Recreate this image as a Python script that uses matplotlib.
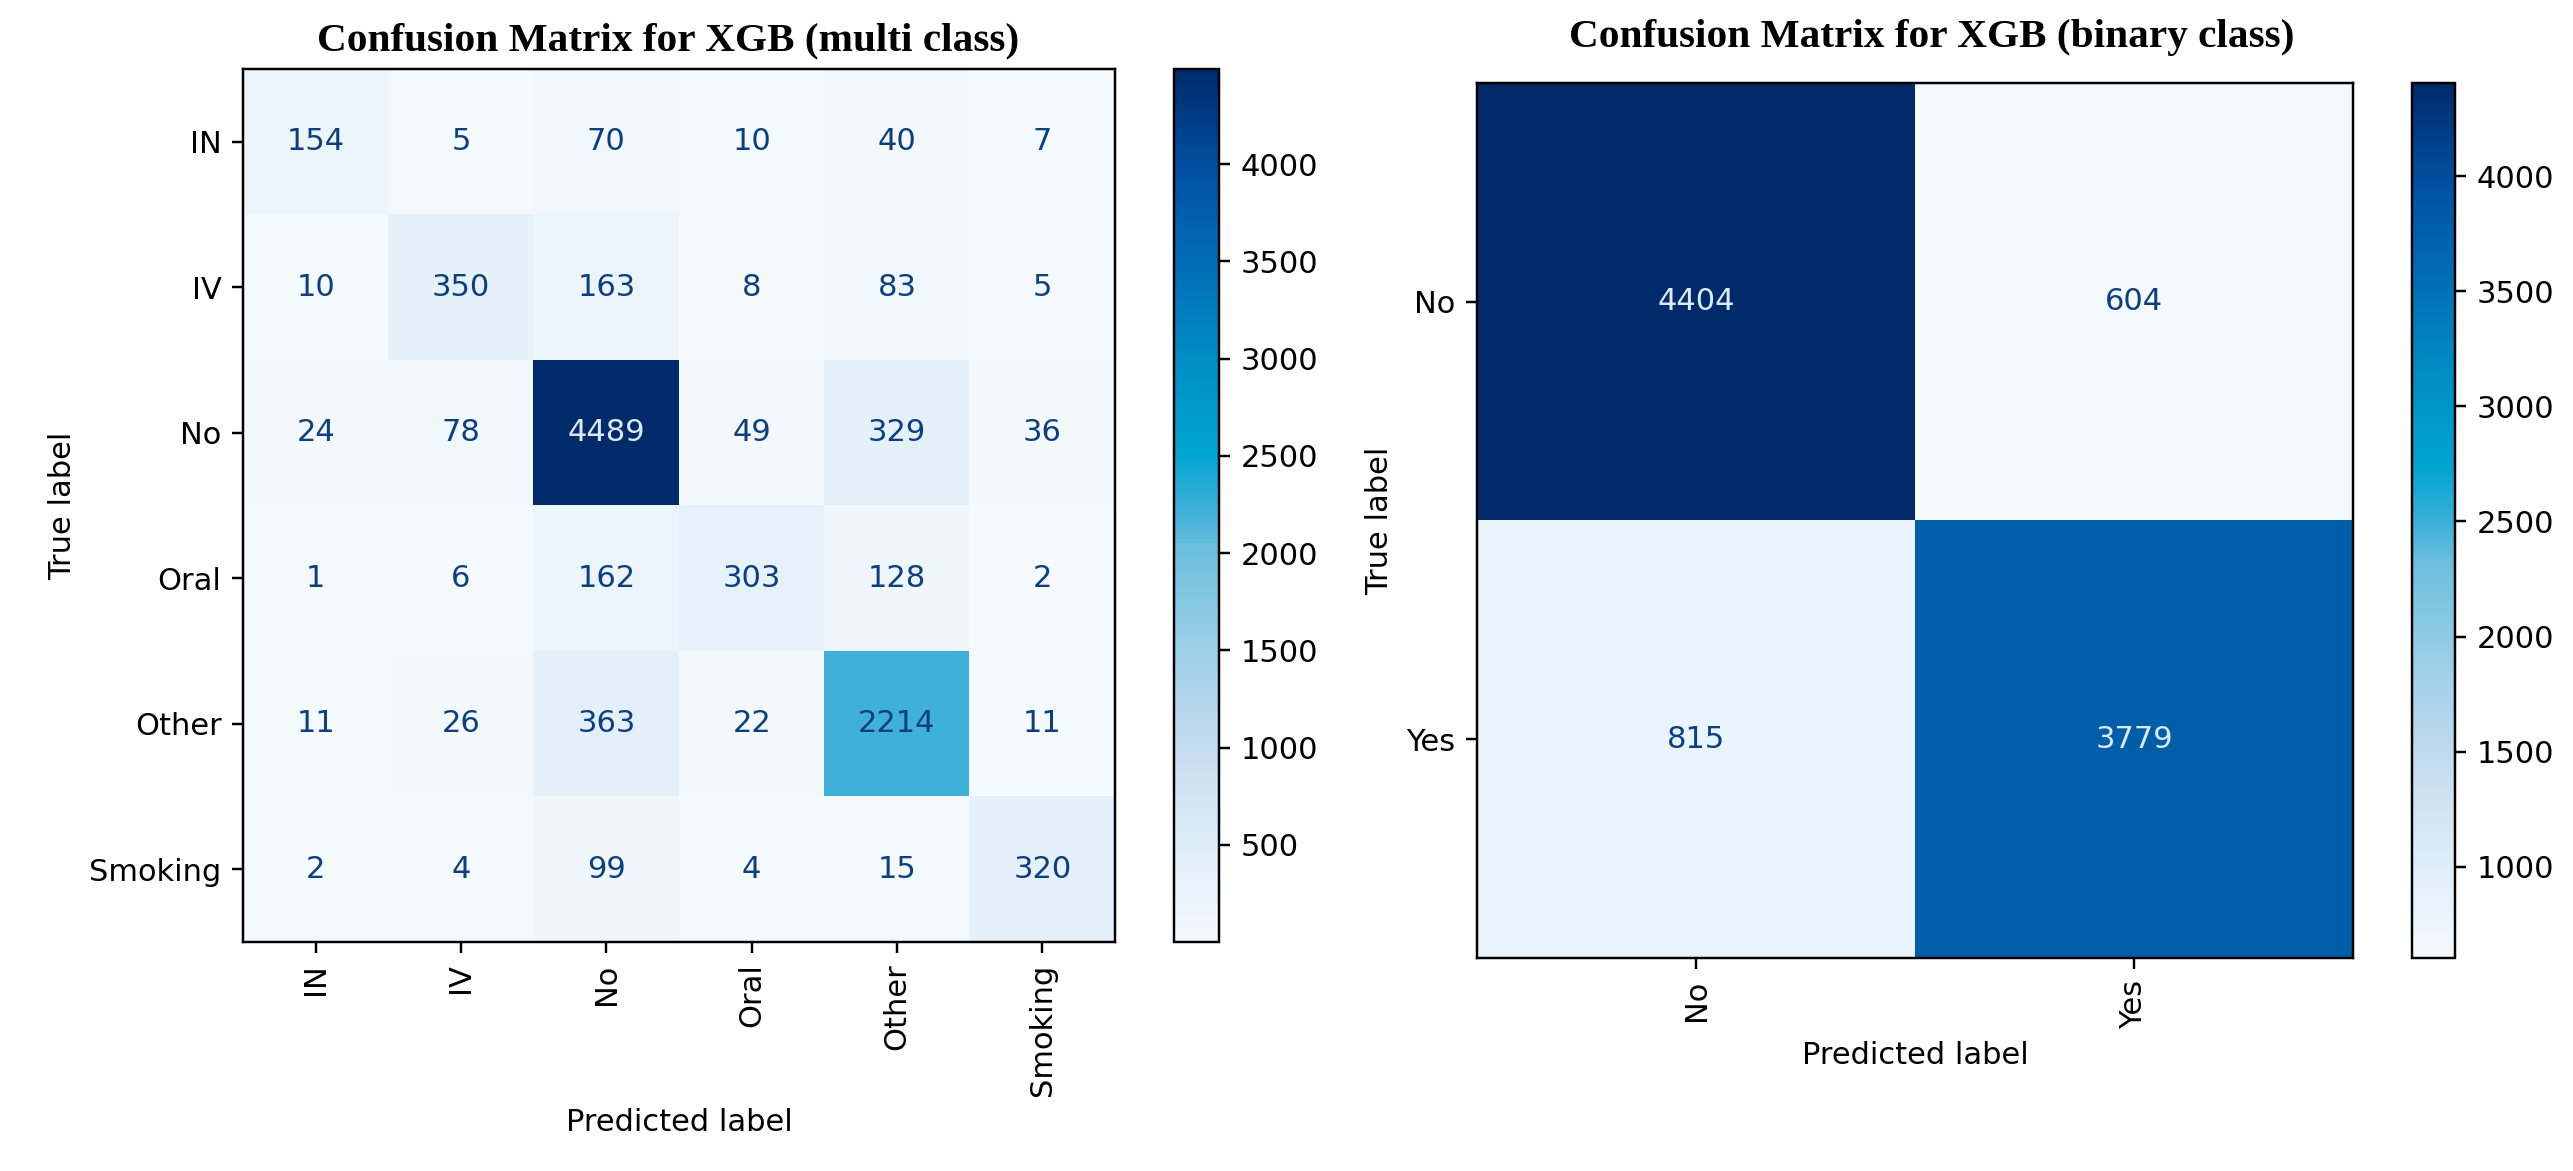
import numpy as np
import matplotlib
matplotlib.use("Agg")
import matplotlib.pyplot as plt
from matplotlib.colors import LinearSegmentedColormap

multi_labels = ["IN", "IV", "No", "Oral", "Other", "Smoking"]
multi_cm = np.array([
    [154, 5, 70, 10, 40, 7],
    [10, 350, 163, 8, 83, 5],
    [24, 78, 4489, 49, 329, 36],
    [1, 6, 162, 303, 128, 2],
    [11, 26, 363, 22, 2214, 11],
    [2, 4, 99, 4, 15, 320],
])

binary_labels = ["No", "Yes"]
binary_cm = np.array([
    [4404, 604],
    [815, 3779],
])

multi_cbar_ticks = [500, 1000, 1500, 2000, 2500, 3000, 3500, 4000]
binary_cbar_ticks = [1000, 1500, 2000, 2500, 3000, 3500, 4000]

# saturated "Blues" look of the reference (cyan in the middle)
cmap = LinearSegmentedColormap.from_list("blues_cyan", [
    (0.00, "#f4f9fe"),
    (0.11, "#deedf8"),
    (0.22, "#c5dcef"),
    (0.33, "#9ed0e8"),
    (0.45, "#6cbfdd"),
    (0.50, "#3ab0d8"),
    (0.56, "#00a5d0"),
    (0.67, "#008dc4"),
    (0.78, "#006db4"),
    (0.89, "#0050a0"),
    (1.00, "#002a6a"),
])

DPI = 220
W, H = 2573, 1171


def draw_cm(fig, ax, cax, cm, labels, cbar_ticks):
    im = ax.imshow(cm, cmap=cmap, interpolation="nearest", aspect="auto")
    thresh = (cm.max() + cm.min()) / 2.0
    for i in range(cm.shape[0]):
        for j in range(cm.shape[1]):
            color = "#dce9f6" if cm[i, j] >= thresh else "#0b3f80"
            ax.text(j, i, str(cm[i, j]), ha="center", va="center", color=color)
    ax.set_xticks(range(len(labels)))
    ax.set_xticklabels(labels, rotation=90)
    ax.set_yticks(range(len(labels)))
    ax.set_yticklabels(labels)
    ax.set_xlabel("Predicted label")
    ax.set_ylabel("True label")
    cb = fig.colorbar(im, cax=cax)
    cb.set_ticks(cbar_ticks)
    return im


fig = plt.figure(figsize=(W / DPI, H / DPI), dpi=DPI)

ax1 = fig.add_axes([243 / W, 1 - 942 / H, 872 / W, 873 / H])
cax1 = fig.add_axes([1174 / W, 1 - 942 / H, 45 / W, 873 / H])
ax2 = fig.add_axes([1477 / W, 1 - 958 / H, 876 / W, 875 / H])
cax2 = fig.add_axes([2412 / W, 1 - 958 / H, 43 / W, 875 / H])

draw_cm(fig, ax1, cax1, multi_cm, multi_labels, multi_cbar_ticks)
draw_cm(fig, ax2, cax2, binary_cm, binary_labels, binary_cbar_ticks)

title_font = dict(family="Liberation Serif", weight="bold", size=13.5)
fig.text(668 / W, 1 - 50 / H, "Confusion Matrix for XGB (multi class)",
         ha="center", va="baseline", **title_font)
fig.text(1932 / W, 1 - 47 / H, "Confusion Matrix for XGB (binary class)",
         ha="center", va="baseline", **title_font)

fig.savefig("out.png", dpi=DPI)
